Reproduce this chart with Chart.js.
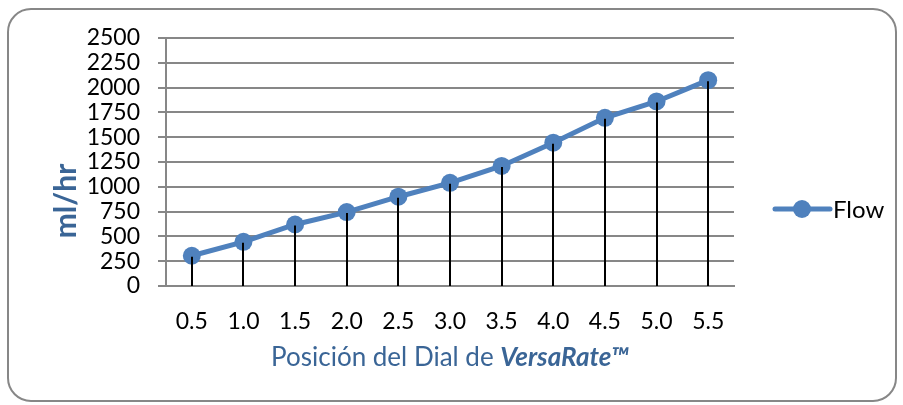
<!DOCTYPE html>
<html>
<head>
<meta charset="utf-8">
<script src="https://cdn.jsdelivr.net/npm/chart.js@4/dist/chart.umd.min.js"></script>
<style>
  html, body { margin: 0; padding: 0; background: #fff; }
  #wrap { position: relative; width: 903px; height: 405px; }
  #frame {
    position: absolute; left: 7px; top: 8px; width: 886px; height: 390px;
    border: 2px solid #878787; border-radius: 24px; pointer-events: none;
  }
</style>
</head>
<body>
<div id="wrap">
  <canvas id="myChart" width="903" height="405"></canvas>
  <div id="frame"></div>
</div>
<script>
'use strict';

let dialPositions = ['0.5', '1.0', '1.5', '2.0', '2.5', '3.0', '3.5', '4.0', '4.5', '5.0', '5.5'];
let flowValues = [305, 445, 620, 745, 900, 1040, 1210, 1445, 1695, 1860, 2075];
let seriesName = 'Flow';
let yMin = 0;
let yMax = 2500;
let yStep = 250;
let yTitle = 'ml/hr';
let xTitlePlain = 'Posición del Dial de ';
let xTitleBold = 'VersaRate™';

let blue = '#4f81bd';
let titleBlue = '#3a6596';
let gridGray = '#878787';
let fontName = 'Lato, "Liberation Sans", sans-serif';

// black drop lines from each point down to the x axis
let dropLines = {
    id: 'dropLines',
    afterDatasetsDraw(chart) {
        let ctx = chart.ctx;
        let bottom = chart.scales.y.getPixelForValue(yMin);
        let meta = chart.getDatasetMeta(0);
        ctx.save();
        ctx.strokeStyle = '#000';
        ctx.lineWidth = 2;
        for (let i = 0; i < meta.data.length; i++) {
            let pt = meta.data[i];
            ctx.beginPath();
            ctx.moveTo(Math.round(pt.x), pt.y + 1);
            ctx.lineTo(Math.round(pt.x), bottom);
            ctx.stroke();
        }
        ctx.restore();
    }
};

// axis titles and legend
let extras = {
    id: 'extras',
    afterDraw(chart) {
        let ctx = chart.ctx;
        let area = chart.chartArea;
        ctx.save();

        // x title, mixed style
        let cx = (area.left + area.right) / 2;
        let ty = area.bottom + 72;
        ctx.textBaseline = 'middle';
        ctx.fillStyle = titleBlue;
        ctx.font = '26px ' + fontName;
        let w1 = ctx.measureText(xTitlePlain).width;
        ctx.font = 'italic bold 26px ' + fontName;
        let w2 = ctx.measureText(xTitleBold).width;
        let sx = cx - (w1 + w2) / 2;
        ctx.textAlign = 'left';
        ctx.font = '26px ' + fontName;
        ctx.fillText(xTitlePlain, sx, ty);
        ctx.font = 'italic bold 26px ' + fontName;
        ctx.fillText(xTitleBold, sx + w1, ty);

        // y title
        ctx.translate(66, (area.top + area.bottom) / 2 + 39);
        ctx.rotate(-Math.PI / 2);
        ctx.textAlign = 'center';
        ctx.font = 'bold 30px ' + fontName;
        ctx.fillText(yTitle, 0, 0);
        ctx.setTransform(1, 0, 0, 1, 0, 0);

        // legend
        let ly = 209;
        let lx = area.right + 41;
        ctx.strokeStyle = blue;
        ctx.lineWidth = 5;
        ctx.lineCap = 'round';
        ctx.beginPath();
        ctx.moveTo(lx, ly);
        ctx.lineTo(lx + 55, ly);
        ctx.stroke();
        ctx.fillStyle = blue;
        ctx.beginPath();
        ctx.arc(lx + 27, ly, 9, 0, Math.PI * 2);
        ctx.fill();
        ctx.fillStyle = '#000';
        ctx.textAlign = 'left';
        ctx.font = '24px ' + fontName;
        ctx.fillText(seriesName, lx + 58, ly + 1);

        ctx.restore();
    }
};

let ctx = document.getElementById('myChart').getContext('2d');
let myChart = new Chart(ctx, {
    type: 'line',
    data: {
        labels: dialPositions,
        datasets: [{
            label: seriesName,
            data: flowValues,
            borderColor: blue,
            backgroundColor: blue,
            borderWidth: 5,
            pointRadius: 9,
            pointBorderWidth: 0,
            pointBackgroundColor: blue,
            tension: 0,
            fill: false
        }]
    },
    options: {
        responsive: false,
        animation: false,
        layout: {
            padding: { left: 0, top: 38, right: 169, bottom: 0 }
        },
        plugins: {
            legend: { display: false },
            tooltip: { enabled: false }
        },
        scales: {
            x: {
                offset: true,
                grid: { display: false, drawTicks: false },
                border: { display: true, color: gridGray, width: 2 },
                ticks: {
                    color: '#000',
                    padding: 22,
                    maxRotation: 0,
                    font: { family: fontName, size: 23 }
                },
                afterFit(scale) { scale.height = 119; }
            },
            y: {
                min: yMin,
                max: yMax,
                grid: { color: gridGray, lineWidth: 2, tickLength: 8 },
                border: { display: true, color: gridGray, width: 2 },
                ticks: {
                    stepSize: yStep,
                    autoSkip: false,
                    color: '#000',
                    padding: 18,
                    font: { family: fontName, size: 23 },
                    callback: function (value) { return String(value); }
                },
                afterFit(scale) { scale.width = 166; }
            }
        }
    },
    plugins: [dropLines, extras]
});
</script>
</body>
</html>
